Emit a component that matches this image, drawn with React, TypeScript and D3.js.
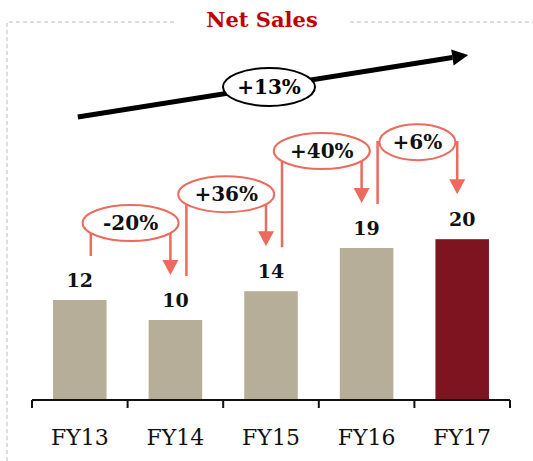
import React from 'react';
import * as d3 from 'd3';

// Net sales by fiscal year
const years = ['FY13', 'FY14', 'FY15', 'FY16', 'FY17'];
const sales = [12.5, 10.0, 13.6, 19.0, 20.1];
const salesLabels = ['12', '10', '14', '19', '20'];
const growthLabels = ['-20%', '+36%', '+40%', '+6%'];
const cagrLabel = '+13%';

const W = 533;
const H = 461;
const serif = '"DejaVu Serif", Georgia, serif';
const beige = '#b6ae98';
const maroon = '#7e141f';
const salmon = '#ec6b5e';

export default function App() {
  const x = d3.scaleBand<string>().domain(years).range([32, 510]).padding(0);
  const y = d3.scaleLinear().domain([0, 25]).range([400, 200]);
  const barW = x.bandwidth() * 0.56;
  const cx = (d: string) => (x(d) as number) + x.bandwidth() / 2;

  const edges = years.map(d => x(d) as number).concat([x.range()[1]]);

  // black cagr arrow across the whole period
  const ax0 = cx(years[0]) - 2;
  const ay0 = 117;
  const ax1 = cx(years[years.length - 1]) + 6;
  const ay1 = 55;
  const ang = Math.atan2(ay1 - ay0, ax1 - ax0);
  const headL = 16;
  const headW = 8;
  const bx = ax1 - headL * Math.cos(ang);
  const by = ay1 - headL * Math.sin(ang);
  const nx = -Math.sin(ang);
  const ny = Math.cos(ang);
  const head = `M${ax1},${ay1}L${bx + nx * headW},${by + ny * headW}L${bx - nx * headW},${by - ny * headW}Z`;

  return (
    <svg width={W} height={H} style={{ position: 'absolute', left: 0, top: 0, background: '#fff' }}>
      {/* dashed frame */}
      <g stroke="#bdbdbd" strokeWidth={1} strokeDasharray="4,3" fill="none">
        <path d={`M7,${H}V22H176`} />
        <path d={`M350,22H${W}`} />
      </g>
      <text x={262} y={27} textAnchor="middle" fontFamily={serif} fontWeight="bold" fontSize={21} fill="#c00000">
        Net Sales
      </text>

      {/* bars */}
      {years.map((d, i) => (
        <rect key={d} x={cx(d) - barW / 2} y={y(sales[i])} width={barW} height={y(0) - y(sales[i])}
          fill={i === years.length - 1 ? maroon : beige} />
      ))}
      {years.map((d, i) => (
        <text key={d} x={cx(d)} y={y(sales[i]) - 13} textAnchor="middle" fontFamily={serif}
          fontWeight="bold" fontSize={19} fill="#111">
          {salesLabels[i]}
        </text>
      ))}

      {/* axis */}
      <g stroke="#111" strokeWidth={2}>
        <line x1={x.range()[0]} x2={x.range()[1]} y1={y(0)} y2={y(0)} />
        {edges.map((e, i) => (
          <line key={i} x1={e} x2={e} y1={y(0)} y2={y(0) + 8} />
        ))}
      </g>
      {years.map(d => (
        <text key={d} x={cx(d)} y={445} textAnchor="middle" fontFamily={serif} fontSize={22} fill="#111">
          {d}
        </text>
      ))}

      {/* year-over-year growth connectors */}
      {growthLabels.map((g, i) => {
        const lx = cx(years[i]) + 11;
        const rx = cx(years[i + 1]) - 5;
        const startY = y(sales[i]) - 44;
        const tipY = y(sales[i + 1]) - 45;
        const cy = tipY - 52;
        const ex = (lx + rx) / 2;
        const erx = g.length * 10 + 8;
        return (
          <g key={g}>
            <path d={`M${lx},${startY}V${cy}H${rx}V${tipY - 14}`} fill="none" stroke={salmon} strokeWidth={2.5} />
            <path d={`M${rx - 8},${tipY - 15}L${rx + 8},${tipY - 15}L${rx},${tipY}Z`} fill={salmon} />
            <ellipse cx={ex} cy={cy} rx={erx} ry={18} fill="#fff" stroke={salmon} strokeWidth={2} />
            <text x={ex} y={cy + 7} textAnchor="middle" fontFamily={serif} fontWeight="bold" fontSize={20} fill="#111">
              {g}
            </text>
          </g>
        );
      })}

      {/* cagr arrow */}
      <line x1={ax0} y1={ay0} x2={bx} y2={by} stroke="#000" strokeWidth={5} />
      <path d={head} fill="#000" />
      <ellipse cx={(ax0 + ax1) / 2 - 4} cy={(ay0 + ay1) / 2 + 1} rx={46} ry={19} fill="#fff" stroke="#000" strokeWidth={2} />
      <text x={(ax0 + ax1) / 2 - 4} y={(ay0 + ay1) / 2 + 8} textAnchor="middle" fontFamily={serif} fontWeight="bold"
        fontSize={20} fill="#000">
        {cagrLabel}
      </text>
    </svg>
  );
}
